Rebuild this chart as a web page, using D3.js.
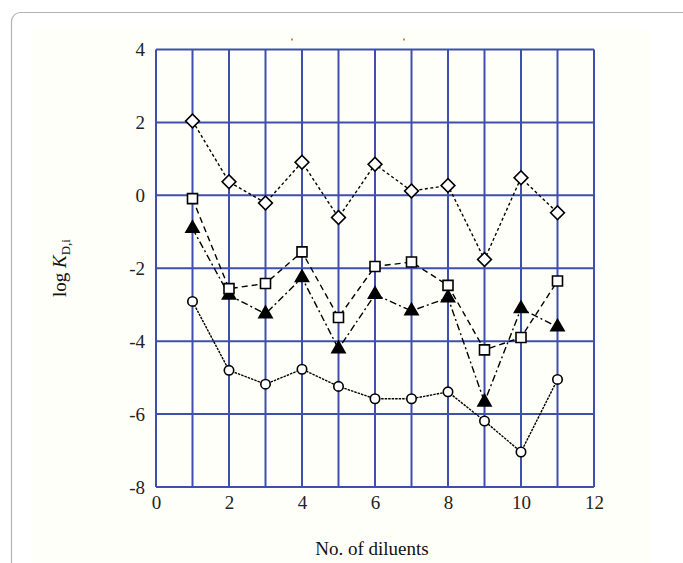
<!DOCTYPE html>
<html>
<head>
<meta charset="utf-8">
<script src="https://cdn.jsdelivr.net/npm/d3@7"></script>
<style>
  body { margin: 0; background: #fff; }
  svg { display: block; }
</style>
</head>
<body>
<script>
// data
var diluents = [1, 2, 3, 4, 5, 6, 7, 8, 9, 10, 11];
var diamondVals  = [2.04, 0.37, -0.21, 0.91, -0.61, 0.85, 0.12, 0.27, -1.76, 0.48, -0.48];
var squareVals   = [-0.09, -2.56, -2.42, -1.55, -3.35, -1.95, -1.83, -2.47, -4.24, -3.90, -2.35];
var triangleVals = [-0.91, -2.74, -3.25, -2.26, -4.21, -2.72, -3.17, -2.81, -5.67, -3.11, -3.61];
var circleVals   = [-2.91, -4.80, -5.18, -4.77, -5.24, -5.58, -5.58, -5.39, -6.19, -7.04, -5.05];
var xTicks = [0, 2, 4, 6, 8, 10, 12];
var yTicks = [-8, -6, -4, -2, 0, 2, 4];

var W = 683, H = 563;
var margin = {top: 49.5, right: 89, bottom: 76, left: 156};
var width = W - margin.left - margin.right,
    height = H - margin.top - margin.bottom;

var svg = d3.select("body").append("svg")
    .attr("width", W)
    .attr("height", H);

// card frame + image background
svg.append("rect")
    .attr("x", 11.5).attr("y", 12.5)
    .attr("width", 720).attr("height", 600)
    .attr("rx", 9)
    .attr("fill", "#fff")
    .attr("stroke", "#b4b4b4")
    .attr("stroke-width", 1.2);
svg.append("rect")
    .attr("x", 33).attr("y", 30)
    .attr("width", 617).attr("height", 540)
    .attr("fill", "#fffffa");

// remnants of cropped title
svg.append("rect").attr("x", 291).attr("y", 38.5).attr("width", 2).attr("height", 2).attr("fill", "#c98a4a");
svg.append("rect").attr("x", 403).attr("y", 38.5).attr("width", 2).attr("height", 2).attr("fill", "#c98a4a");

var g = svg.append("g")
    .attr("transform", "translate(" + margin.left + "," + margin.top + ")");

var x = d3.scaleLinear().domain([0, 12]).range([0, width]);
var y = d3.scaleLinear().domain([-8, 4]).range([height, 0]);

var grid = "#3f4fae";

// vertical grid at every integer
g.append("g")
  .selectAll("line")
  .data(d3.range(0, 13))
  .enter().append("line")
    .attr("x1", function(d) { return x(d); })
    .attr("x2", function(d) { return x(d); })
    .attr("y1", 0).attr("y2", height)
    .attr("stroke", grid).attr("stroke-width", 2);

// horizontal grid
g.append("g")
  .selectAll("line")
  .data(yTicks)
  .enter().append("line")
    .attr("x1", 0).attr("x2", width)
    .attr("y1", function(d) { return y(d); })
    .attr("y2", function(d) { return y(d); })
    .attr("stroke", grid).attr("stroke-width", 2);

// axes labels (no domain lines, grid does the frame)
var fontFam = "'Liberation Serif', 'Times New Roman', serif";

var xAxis = g.append("g")
    .attr("transform", "translate(0," + height + ")")
    .call(d3.axisBottom(x).tickValues(xTicks).tickSize(0).tickPadding(9).tickFormat(function(d) { return String(d); }));
xAxis.select(".domain").remove();
xAxis.selectAll("text")
    .attr("font-family", fontFam).attr("font-size", 19).attr("fill", "#222");

var yAxis = g.append("g")
    .call(d3.axisLeft(y).tickValues(yTicks).tickSize(0).tickPadding(11).tickFormat(function(d) { return String(d); }));
yAxis.select(".domain").remove();
yAxis.selectAll("text")
    .attr("font-family", fontFam).attr("font-size", 19).attr("fill", "#222");

// axis titles
svg.append("text")
    .attr("x", margin.left + width / 2 - 3)
    .attr("y", 555)
    .attr("text-anchor", "middle")
    .attr("font-family", fontFam).attr("font-size", 19).attr("fill", "#111")
    .text("No. of diluents");

var yt = svg.append("text")
    .attr("transform", "translate(66,268) rotate(-90)")
    .attr("text-anchor", "middle")
    .attr("font-family", fontFam).attr("font-size", 19).attr("fill", "#111");
yt.append("tspan").text("log ");
yt.append("tspan").attr("font-style", "italic").text("K");
yt.append("tspan").attr("font-size", 13).attr("dy", 4).text("D,i");

// series
var series = [
  {vals: circleVals,   dash: "2.5,1",   sym: d3.symbolCircle,   size: 70, fill: "#fff", rot: 0},
  {vals: triangleVals, dash: "7,3,2,3", sym: d3.symbolTriangle, size: 75, fill: "#000", rot: 0},
  {vals: squareVals,   dash: "6,4",     sym: d3.symbolSquare,   size: 100, fill: "#fff", rot: 0},
  {vals: diamondVals,  dash: "3,2.5",   sym: d3.symbolSquare,   size: 95, fill: "#fff", rot: 45}
];

var line = d3.line()
    .x(function(d) { return x(d[0]); })
    .y(function(d) { return y(d[1]); });

series.forEach(function(s) {
  var pts = diluents.map(function(d, i) { return [d, s.vals[i]]; });
  g.append("path")
      .datum(pts)
      .attr("fill", "none")
      .attr("stroke", "#000")
      .attr("stroke-width", 1.4)
      .attr("stroke-dasharray", s.dash)
      .attr("d", line);
});

series.forEach(function(s) {
  var pts = diluents.map(function(d, i) { return [d, s.vals[i]]; });
  var sym = d3.symbol().type(s.sym).size(s.size);
  g.append("g")
    .selectAll("path")
    .data(pts)
    .enter().append("path")
      .attr("transform", function(d) {
        return "translate(" + x(d[0]) + "," + y(d[1]) + ") rotate(" + s.rot + ")";
      })
      .attr("d", sym)
      .attr("fill", s.fill)
      .attr("stroke", "#000")
      .attr("stroke-width", 1.6);
});
</script>
</body>
</html>
